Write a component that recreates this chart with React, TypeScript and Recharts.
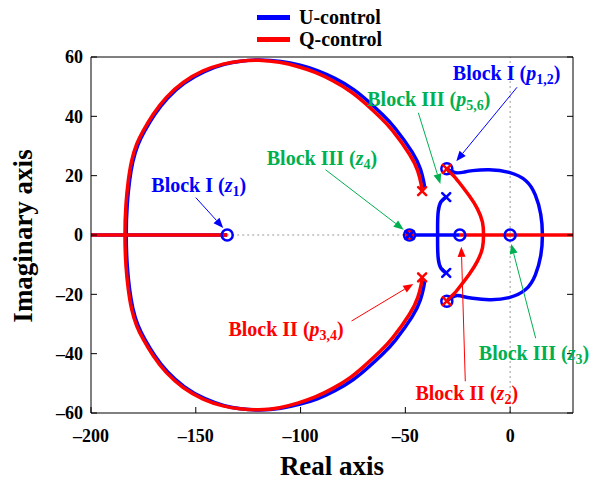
import React from 'react'
import {
  ComposedChart, Line, Scatter, XAxis, YAxis, ReferenceLine, ReferenceDot,
} from 'recharts'

const BLUE = '#0000ff'
const RED = '#ff0000'
const GREEN = '#00b050'
const FONT = '"Liberation Serif", "Times New Roman", serif'

const xTicks = [-200, -150, -100, -50, 0]
const yTicks = [-60, -40, -20, 0, 20, 40, 60]

// big loop from p3,4 (Q-control)
const loopQ: [number, number][] = [
  [-42, 14.8], [-42.5, 17.2], [-44.1, 21.6], [-48.1, 27.3], [-56, 35.1], [-62, 39.7],
  [-68.7, 44.1], [-76, 48.3], [-84.6, 52], [-93, 54.8], [-101, 56.7], [-110, 58.2],
  [-120, 58.9], [-129, 58.6], [-137, 57.6], [-146.5, 55.3], [-156, 51.4], [-164, 46.4],
  [-170.3, 40.7], [-175.1, 35.1], [-178.2, 30.6], [-180.6, 25], [-182.2, 18.3], [-183.3, 10.4], [-183.8, 0],
  [-183.3, -10.4], [-182.2, -18.3], [-180.6, -25], [-178.2, -30.6], [-175.1, -35.1], [-170.3, -40.7],
  [-164, -46.4], [-156, -51.4], [-146.5, -55.3], [-137, -57.6], [-129, -58.6], [-120, -58.9], [-110, -58.2],
  [-101, -56.6], [-93, -54.6], [-84.6, -51.7], [-76, -47.9], [-68.7, -43.6], [-62, -39.2],
  [-56, -34.6], [-48.1, -26.8], [-44.1, -21.1], [-42.5, -16.9], [-42, -14.3],
]

// big loop (U-control), slightly to the right
const loopU: [number, number][] = [
  [-40.8, 15.8], [-41.2, 17.8], [-42.8, 22.2], [-46.8, 28], [-54.8, 35.9], [-60.8, 40.5],
  [-67.5, 44.9], [-74.8, 49.1], [-83.4, 52.7], [-92, 55.4], [-100.2, 57.2], [-109.4, 58.5],
  [-119.5, 59], [-128.5, 58.6], [-136.4, 57.5], [-145.9, 55.1], [-155.4, 51.2], [-163.4, 46.2],
  [-169.7, 40.5], [-174.5, 34.9], [-177.6, 30.4], [-180, 24.8], [-181.6, 18.2], [-182.7, 10.3], [-183.2, 0],
  [-182.7, -10.3], [-181.6, -18.2], [-180, -24.8], [-177.6, -30.4], [-174.5, -34.9], [-169.7, -40.5],
  [-163.4, -46.2], [-155.4, -51.2], [-145.9, -55.1], [-136.4, -57.5], [-128.5, -58.6], [-119.5, -59], [-109.4, -58.4],
  [-100.2, -57], [-92, -55.2], [-83.4, -52.4], [-74.8, -48.7], [-67.5, -44.5], [-60.8, -40.1],
  [-54.8, -35.5], [-46.8, -27.6], [-42.8, -21.8], [-41.2, -17.4], [-40.8, -15.4],
]

// inner branch from p1,2 (U-control), crossing the real axis on the right
const innerU: [number, number][] = [
  [-30.2, 22.3], [-26, 21], [-22, 21.2], [-17.9, 21.7], [-10, 22], [-0.5, 21.1],
  [7.5, 18.3], [12, 13.5], [14.6, 7], [15.4, 0], [14.6, -7], [12, -13.5], [7.5, -18.3],
  [-0.5, -21.1], [-10, -21.8], [-17.9, -21.3], [-22, -20.8], [-26, -20.5], [-30.2, -22.3],
]

// inner branch from p1,2 (Q-control)
const innerQ: [number, number][] = [
  [-29.8, 21.8], [-27, 20], [-24.3, 17.7], [-19.5, 13.2], [-15.6, 8.8], [-13.2, 4.3],
  [-12.7, 0], [-13.2, -4.3], [-15.6, -8.8], [-19.5, -13.2], [-24.3, -17.7], [-27, -20],
  [-29.8, -21.8],
]

// p5,6 (U-control) meeting on the real axis
const branchU: [number, number][] = [
  [-30.5, 12.8], [-33, 11.2], [-34.3, 8], [-34.6, 3.5], [-34.6, 0],
  [-34.6, -3.5], [-34.3, -8], [-33, -11.2], [-30.5, -12.8],
]

const axisU: [number, number][][] = [[[-200, 0], [-135, 0]], [[-48, 0], [-24, 0]]]
const axisQ: [number, number][][] = [[[-200, 0], [-135, 0]], [[-24, 0], [30, 0]]]

const zerosU: [number, number][] = [[-135, 0], [-48, 0], [-24, 0], [0, 0], [-30.2, 22.3], [-30.2, -22.3]]
const zerosQ: [number, number][] = [[-48, 0]]
const polesU: [number, number][] = [[-30.5, 12.8], [-30.5, -12.8], [-48, 0]]
const polesQ: [number, number][] = [[-42, 14.8], [-42, -14.3], [-30.2, 22.3], [-30.2, -22.3]]

const notes = [
  { head: 'Block I', v: 'z', sub: '1', color: BLUE, at: [-148.6, 16.5], from: [-150, 12.6], to: [-136.9, 2.4] },
  { head: 'Block III', v: 'z', sub: '4', color: GREEN, at: [-89.8, 25.6], from: [-88.1, 22], to: [-50.8, 1.8] },
  { head: 'Block III', v: 'p', sub: '5,6', color: GREEN, at: [-38.8, 45.5], from: [-43.8, 41.2], to: [-33.3, 17.2] },
  { head: 'Block I', v: 'p', sub: '1,2', color: BLUE, at: [-1.7, 54.2], from: [3.3, 49.8], to: [-25.7, 24.9] },
  { head: 'Block II', v: 'p', sub: '3,4', color: RED, at: [-106.9, -32], from: [-75.7, -29], to: [-46.2, -16.5] },
  { head: 'Block II', v: 'z', sub: '2', color: RED, at: [-20.7, -53.5], from: [-21.4, -49.3], to: [-23.3, -4] },
  { head: 'Block III', v: 'z', sub: '3', color: GREEN, at: [11.4, -40], from: [12.2, -34.8], to: [0.5, -3] },
]

const pts = (a: [number, number][]) => a.map(([x, y]) => ({ x, y }))
const fmt = (v: number) => (v < 0 ? `\u2013${-v}` : `${v}`)

const ring = (color: string, r: number) => (p: any) => (
  <circle cx={p.cx} cy={p.cy} r={r} fill="none" stroke={color} strokeWidth={2.5} />
)
const cross = (color: string) => (p: any) => (
  <g stroke={color} strokeWidth={2.5} strokeLinecap="round">
    <line x1={p.cx - 4} y1={p.cy - 4} x2={p.cx + 4} y2={p.cy + 4} />
    <line x1={p.cx - 4} y1={p.cy + 4} x2={p.cx + 4} y2={p.cy - 4} />
  </g>
)

const arrow = (color: string) => (p: any) => {
  const { x1, y1, x2, y2 } = p
  const a = Math.atan2(y2 - y1, x2 - x1)
  const L = 10, W = 4
  const bx = x2 - L * Math.cos(a), by = y2 - L * Math.sin(a)
  const nx = -Math.sin(a) * W, ny = Math.cos(a) * W
  return (
    <g>
      <line x1={x1} y1={y1} x2={bx} y2={by} stroke={color} strokeWidth={1} />
      <polygon points={`${x2},${y2} ${bx + nx},${by + ny} ${bx - nx},${by - ny}`} fill={color} />
    </g>
  )
}

const noteText = (n: typeof notes[number]) => (p: any) => (
  <text x={p.cx} y={p.cy + 6} textAnchor="middle" fill={n.color} fontFamily={FONT} fontWeight={700} fontSize={20}>
    <tspan>{n.head} (</tspan>
    <tspan fontStyle="italic">{n.v}</tspan>
    <tspan fontSize={14} dy={4}>{n.sub}</tspan>
    <tspan dy={-4}>)</tspan>
  </text>
)

const tickStyle = { fill: '#000', fontSize: 18, fontWeight: 700, fontFamily: FONT }
const lineProps = { type: 'natural' as const, dataKey: 'y', dot: false, strokeWidth: 3.5, isAnimationActive: false }

export default function App() {
  return (
    <div style={{ position: 'absolute', left: 0, top: 0, width: 590, height: 480, background: '#fff' }}>
      {/* legend */}
      <div style={{ position: 'absolute', left: 257, top: 6, fontFamily: FONT, fontWeight: 700, fontSize: 20, lineHeight: '22px' }}>
        {[['U-control', BLUE], ['Q-control', RED]].map(([t, c]) => (
          <div key={t} style={{ display: 'flex', alignItems: 'center' }}>
            <span style={{ display: 'inline-block', width: 33, height: 5, background: c, marginRight: 9 }} />
            <span>{t}</span>
          </div>
        ))}
      </div>
      <ComposedChart width={590} height={480} margin={{ top: 56, right: 16, bottom: 0, left: 0 }}>
        <XAxis
          type="number" dataKey="x" domain={[-200, 30]} allowDataOverflow ticks={xTicks}
          tickFormatter={fmt} tickSize={-6} tickMargin={22} height={67} stroke="#000" tick={tickStyle}
          label={{
            content: (p: any) => (
              <text x={p.viewBox.x + p.viewBox.width / 2} y={p.viewBox.y + 62} textAnchor="middle"
                fontFamily={FONT} fontWeight={700} fontSize={27} fill="#000">Real axis</text>
            ),
          }}
        />
        <XAxis xAxisId="top" orientation="top" type="number" domain={[-200, 30]} allowDataOverflow ticks={xTicks}
          tickFormatter={() => ''} tickSize={-6} height={1} stroke="#000" />
        <YAxis
          type="number" dataKey="y" domain={[-60, 60]} allowDataOverflow ticks={yTicks}
          tickFormatter={fmt} tickSize={-6} tickMargin={14} width={91} stroke="#000" tick={tickStyle}
          label={{
            content: () => (
              <text x={32} y={236} textAnchor="middle" transform="rotate(-90 32 236)"
                fontFamily={FONT} fontWeight={700} fontSize={27} fill="#000">Imaginary axis</text>
            ),
          }}
        />
        <YAxis yAxisId="right" orientation="right" type="number" domain={[-60, 60]} allowDataOverflow ticks={yTicks}
          tickFormatter={() => ''} tickSize={-6} width={1} stroke="#000" />

        <ReferenceLine segment={[{ x: -135, y: 0 }, { x: -48, y: 0 }]} stroke="#999" strokeDasharray="2 3" />
        <ReferenceLine x={0} stroke="#999" strokeDasharray="2 3" />

        <Line data={pts(loopU)} stroke={BLUE} {...lineProps} />
        <Line data={pts(innerU)} stroke={BLUE} {...lineProps} />
        <Line data={pts(branchU)} stroke={BLUE} {...lineProps} />
        {axisU.map((s, i) => <Line key={`au${i}`} data={pts(s)} stroke={BLUE} {...lineProps} type="linear" />)}
        <Line data={pts(loopQ)} stroke={RED} {...lineProps} />
        <Line data={pts(innerQ)} stroke={RED} {...lineProps} />
        {axisQ.map((s, i) => <Line key={`aq${i}`} data={pts(s)} stroke={RED} {...lineProps} type="linear" />)}

        <Scatter data={pts(zerosU)} shape={ring(BLUE, 5.5)} isAnimationActive={false} />
        <Scatter data={pts(zerosQ)} shape={ring(RED, 3.5)} isAnimationActive={false} />
        <Scatter data={pts(polesU)} shape={cross(BLUE)} isAnimationActive={false} />
        <Scatter data={pts(polesQ)} shape={cross(RED)} isAnimationActive={false} />

        {notes.map((n, i) => (
          <ReferenceLine key={`nl${i}`} segment={[{ x: n.from[0], y: n.from[1] }, { x: n.to[0], y: n.to[1] }]}
            shape={arrow(n.color)} />
        ))}
        {notes.map((n, i) => (
          <ReferenceDot key={`nd${i}`} x={n.at[0]} y={n.at[1]} r={0} shape={noteText(n)} />
        ))}
      </ComposedChart>
    </div>
  )
}
